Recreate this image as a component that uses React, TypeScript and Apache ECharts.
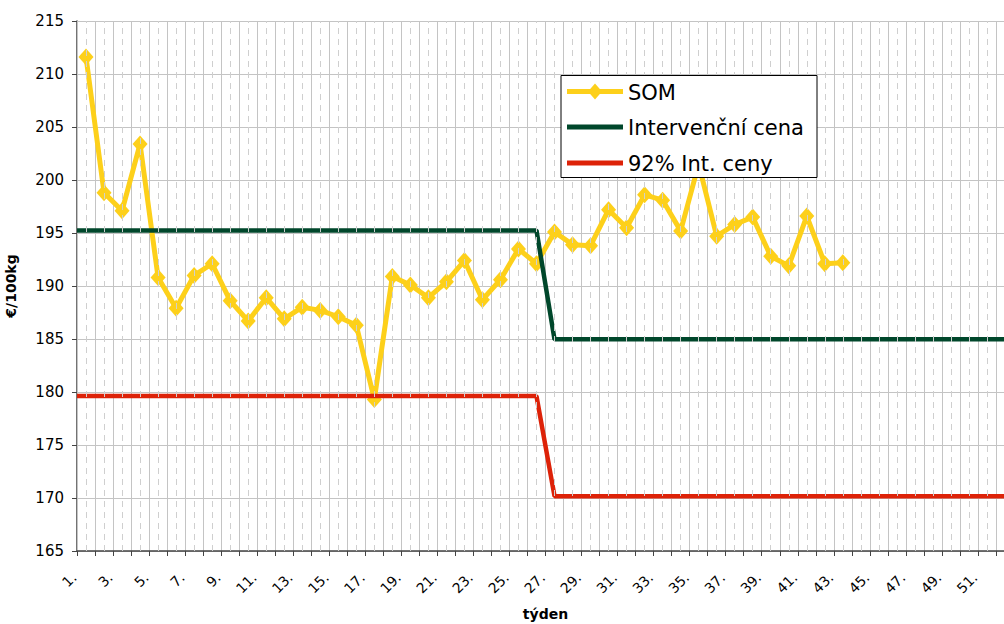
import React, { useEffect, useRef } from "react";
import * as echarts from "echarts";

const weeks: string[] = Array.from({ length: 52 }, (_, i) => `${i + 1}.`);

const somValues: (number | null)[] = [
  211.6, 198.8, 197.1, 203.4, 190.8, 187.9, 191.0, 192.1, 188.6, 186.7,
  188.9, 186.9, 188.0, 187.7, 187.1, 186.3, 179.3, 190.9, 190.1, 188.9,
  190.4, 192.4, 188.7, 190.6, 193.5, 192.1, 195.1, 193.9, 193.8, 197.2,
  195.5, 198.6, 198.1, 195.2, 201.5, 194.7, 195.8, 196.5, 192.8, 191.9,
  196.6, 192.1, 192.2,
];

// step lines: positions in week units along the axis (0 = left edge)
const stepX: number[] = [0, 25.5, 26.5, 52];
const interventionPrice: number[] = [195.24, 195.24, 184.97, 184.97];
const price92: number[] = [179.62, 179.62, 170.17, 170.17];

const seriesNames: string[] = ["SOM", "Intervenční cena", "92% Int. ceny"];
const seriesColors: string[] = ["#FDD01A", "#00472B", "#DD2208"];

const yTicks = { min: 165, max: 215, step: 5 };

const FONT = "DejaVu Sans";

function buildLegend() {
  const left = 561;
  const top = 75.5;
  const rowY = [91.5, 127, 163];
  const elements: any[] = [
    {
      type: "rect",
      shape: { x: left, y: top, width: 256, height: 102 },
      style: { fill: "#ffffff", stroke: "#000000", lineWidth: 1 },
      z: 100,
    },
  ];
  seriesNames.forEach((name, i) => {
    const y = rowY[i];
    elements.push({
      type: "line",
      shape: { x1: 567, y1: y, x2: 623, y2: y },
      style: { stroke: seriesColors[i], lineWidth: 5 },
      z: 101,
    });
    if (i === 0) {
      elements.push({
        type: "polygon",
        shape: { points: [[595, y - 8], [602, y], [595, y + 8], [588, y]] },
        style: { fill: seriesColors[i] },
        z: 102,
      });
    }
    elements.push({
      type: "text",
      x: 628,
      y: y + 1,
      style: {
        text: name,
        fill: "#000",
        font: `21px "${FONT}"`,
        verticalAlign: "middle",
        align: "left",
      },
      z: 102,
    });
  });
  return elements;
}

export default function App() {
  const ref = useRef<HTMLDivElement>(null);

  useEffect(() => {
    if (!ref.current) return;
    const chart = echarts.init(ref.current, null, { renderer: "svg" });
    chart.setOption({
      animation: false,
      backgroundColor: "#ffffff",
      textStyle: { fontFamily: FONT },
      grid: {
        left: 77,
        top: 21,
        right: 16,
        bottom: 73,
        containLabel: false,
        outerBoundsMode: "none",
      },
      graphic: buildLegend(),
      xAxis: [
        {
          type: "category",
          data: weeks,
          boundaryGap: true,
          name: "týden",
          nameLocation: "middle",
          nameGap: 56,
          nameTextStyle: { fontFamily: FONT, fontSize: 14, fontWeight: "bold", color: "#000" },
          axisLine: { show: true, lineStyle: { color: "#444", width: 1.5 } },
          axisTick: { show: true, interval: 0, length: 5, lineStyle: { color: "#444" } },
          axisLabel: {
            interval: 1,
            rotate: 45,
            margin: 12,
            padding: [0, 17, 0, 0],
            fontFamily: FONT,
            fontSize: 14,
            color: "#000",
          },
          splitLine: { show: true, interval: 0, lineStyle: { color: "#c4c4c4", width: 1 } },
          z: 3,
        },
        {
          type: "value",
          min: 0,
          max: 52,
          show: false,
          splitLine: { show: false },
        },
      ],
      yAxis: {
        type: "value",
        min: yTicks.min,
        max: yTicks.max,
        interval: yTicks.step,
        name: "€/100kg",
        nameLocation: "middle",
        nameGap: 59,
        nameTextStyle: { fontFamily: FONT, fontSize: 14, fontWeight: "bold", color: "#000" },
        axisLine: { show: true, lineStyle: { color: "#444", width: 1.5 } },
        axisTick: { show: true, length: 5, lineStyle: { color: "#444" } },
        axisLabel: { margin: 13, fontFamily: FONT, fontSize: 15, color: "#000" },
        splitLine: { show: true, lineStyle: { color: "#c4c4c4", width: 1 } },
      },
      series: [
        {
          name: "centers",
          type: "line",
          xAxisIndex: 0,
          data: weeks.map(() => null),
          showSymbol: false,
          silent: true,
          z: 1,
          lineStyle: { opacity: 0 },
          markLine: {
            silent: true,
            symbol: ["none", "none"],
            label: { show: false },
            lineStyle: { color: "#cfcfcf", type: [6, 5], width: 1 },
            data: weeks.map((w) => ({ xAxis: w })),
          },
        },
        {
          name: seriesNames[0],
          type: "line",
          xAxisIndex: 0,
          data: somValues,
          symbol: "diamond",
          symbolSize: [15, 17],
          showSymbol: true,
          showAllSymbol: true,
          z: 3,
          lineStyle: { color: seriesColors[0], width: 5 },
          itemStyle: { color: seriesColors[0] },
        },
        {
          name: seriesNames[1],
          type: "line",
          xAxisIndex: 1,
          data: stepX.map((x, i) => [x, interventionPrice[i]]),
          showSymbol: false,
          symbol: "none",
          z: 4,
          lineStyle: { color: seriesColors[1], width: 4.5 },
          itemStyle: { color: seriesColors[1] },
        },
        {
          name: seriesNames[2],
          type: "line",
          xAxisIndex: 1,
          data: stepX.map((x, i) => [x, price92[i]]),
          showSymbol: false,
          symbol: "none",
          z: 4,
          lineStyle: { color: seriesColors[2], width: 4.5 },
          itemStyle: { color: seriesColors[2] },
        },
      ],
    });
    return () => chart.dispose();
  }, []);

  return (
    <div style={{ position: "fixed", left: 0, top: 0, width: 1004, height: 624, overflow: "hidden", background: "#fff" }}>
      <div ref={ref} style={{ width: 1030, height: 624 }} />
    </div>
  );
}
